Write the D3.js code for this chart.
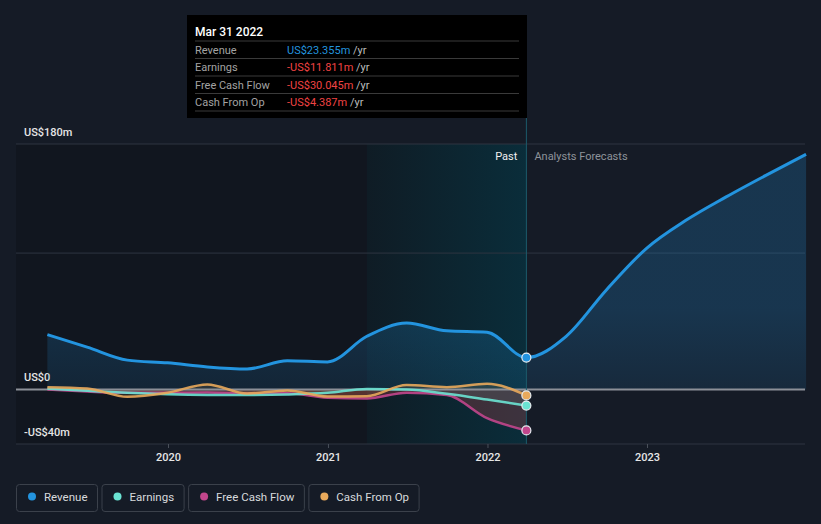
<!DOCTYPE html>
<html><head><meta charset="utf-8">
<script src="https://cdn.jsdelivr.net/npm/d3@7"></script>
<style>
html,body{margin:0;padding:0;background:#151b26;}
svg{display:block;font-family:Roboto,"Noto Sans",sans-serif;}
</style></head><body>
<svg id="c" width="821" height="524"></svg>
<script>
// ---------- data ----------
const pastDates = ["2019-03-31","2019-06-30","2019-09-30","2019-12-31","2020-03-31","2020-06-30","2020-09-30","2020-12-31","2021-03-31","2021-06-30","2021-09-30","2021-12-31","2022-03-31"];
const revenuePast = [40.2, 31, 21.5, 19.5, 16.5, 15, 21, 20.2, 39, 48.7, 43, 42, 23.355];
const earningsPast = [0.5, -1, -2.5, -3.5, -4, -4.1, -3.7, -2.5, 0.3, 0, -3.2, -7.4, -11.811];
const fcfPast = [0, -1.5, -2.5, -2.5, -2.2, -3, -2.8, -6, -6.6, -2.4, -4.1, -21, -30.045];
const cfoPast = [1.7, 0.7, -5.4, -2.4, 3.7, -3, -0.7, -5.2, -4.9, 3.2, 1.7, 4.1, -4.387];
const forecastDates = ["2022-03-31","2022-06-30","2022-09-30","2022-12-31","2023-03-31","2023-06-30","2023-09-30","2023-12-31"];
const revenueForecast = [23.355, 39, 73, 103.5, 124, 141, 157, 172.4];
const yGridValues = [180, 100, 0, -40];
const yTickLabels = [[180,"US$180m"],[0,"US$0"],[-40,"-US$40m"]];
const xTickYears = [2020, 2021, 2022, 2023];
const seriesNames = ["Revenue","Earnings","Free Cash Flow","Cash From Op"];
const seriesColors = ["#2394df","#6be3d3","#c2468c","#e8a95b"];
const tooltipTitle = "Mar 31 2022";
const tooltipValues = ["US$23.355m","-US$11.811m","-US$30.045m","-US$4.387m"];
const pastLabel = "Past", forecastLabel = "Analysts Forecasts";
const highlightStart = "2021-03-31";

// ---------- setup ----------
const svg = d3.select("#c");
const P = d3.timeParse("%Y-%m-%d");
const x = d3.scaleTime().domain([new Date(2020,0,1), new Date(2023,0,1)]).range([168,647]);
const y = d3.scaleLinear().domain([-40,180]).range([444,144]);
const L = 16, R = 805, T = y(180), B = y(-40);
const xNow = x(P(pastDates[pastDates.length-1]));
const xHi = x(P(highlightStart));

const defs = svg.append("defs");
const hg = defs.append("linearGradient").attr("id","hg").attr("x1",0).attr("x2",1).attr("y1",0).attr("y2",0);
hg.append("stop").attr("offset",0).attr("stop-color","#0f1c25");
hg.append("stop").attr("offset",1).attr("stop-color","#0a2d3a");
const rg = defs.append("linearGradient").attr("id","rg").attr("x1",0).attr("x2",0).attr("gradientUnits","userSpaceOnUse")
  .attr("y1", y(60)).attr("y2", y(0));
rg.append("stop").attr("offset",0).attr("stop-color","#2394df").attr("stop-opacity",0.22);
rg.append("stop").attr("offset",1).attr("stop-color","#2394df").attr("stop-opacity",0.12);

// past region darker
svg.append("rect").attr("x",L).attr("y",T).attr("width",xHi-L).attr("height",B-T).attr("fill","#11161f");
svg.append("rect").attr("x",xHi).attr("y",T).attr("width",xNow-xHi).attr("height",B-T).attr("fill","url(#hg)");

// gridlines
svg.selectAll("line.grid").data(yGridValues).join("line")
  .attr("x1",L).attr("x2",R).attr("y1",d=>y(d)).attr("y2",d=>y(d))
  .attr("stroke","#2e3540").attr("stroke-width",1);

// x axis ticks
const xAxis = d3.axisBottom(x).tickValues(xTickYears.map(v=>new Date(v,0,1))).tickFormat(d3.timeFormat("%Y")).tickSize(4).tickSizeOuter(0);
const gx = svg.append("g").attr("transform",`translate(0,${B})`).call(xAxis);
gx.select(".domain").remove();
gx.selectAll(".tick line").attr("stroke","#4a505a");
gx.selectAll(".tick text").attr("fill","#e6e6e6").attr("font-size",11).attr("font-weight",500).attr("dy","0.9em").attr("font-family","Roboto,sans-serif");

// y labels
svg.selectAll("text.yl").data(yTickLabels).join("text")
  .attr("x",24).attr("y",d=>y(d[0])-8).attr("fill","#e6e6e6").attr("font-size",11).attr("font-weight",500).text(d=>d[1]);

// series
const past = pastDates.map(P);
const fc = forecastDates.map(P);
const mk = (dates, vals) => dates.map((d,i)=>({d, v:vals[i]}));
const revAll = mk(past, revenuePast).concat(mk(fc, revenueForecast).slice(1));
const series = [
  mk(past, revenuePast), mk(past, earningsPast), mk(past, fcfPast), mk(past, cfoPast)
];
const curve = d3.curveMonotoneX;
const line = d3.line().x(p=>x(p.d)).y(p=>y(p.v)).curve(curve);
const area = d3.area().x(p=>x(p.d)).y0(y(0)).y1(p=>y(p.v)).curve(curve);

// areas
svg.append("path").datum(revAll).attr("d",area).attr("fill","url(#rg)");
[1,2,3].forEach(i=>{
  svg.append("path").datum(series[i]).attr("d",area).attr("fill", i===2?"#c2464c":seriesColors[i]).attr("fill-opacity", i===2?0.28:0.12);
});

// zero line
svg.append("line").attr("x1",L).attr("x2",R).attr("y1",y(0)).attr("y2",y(0)).attr("stroke","#8c9098").attr("stroke-width",2);

// lines
[2,1,3].forEach(i=>{
  svg.append("path").datum(series[i]).attr("d",line).attr("fill","none").attr("stroke",seriesColors[i]).attr("stroke-width",2.5).attr("stroke-opacity",0.9);
});
svg.append("path").datum(revAll).attr("d",line).attr("fill","none").attr("stroke",seriesColors[0]).attr("stroke-width",3);

// now line
svg.append("line").attr("x1",xNow).attr("x2",xNow).attr("y1",118).attr("y2",B).attr("stroke","#1c5a6c").attr("stroke-width",1);

// markers
series.forEach((s,i)=>{
  const p = s[s.length-1];
  svg.append("circle").attr("cx",x(p.d)).attr("cy",y(p.v)).attr("r",4.5).attr("fill",seriesColors[i]).attr("stroke","#e8eef2").attr("stroke-width",1.2);
});

// past / forecast labels
svg.append("text").attr("x",xNow-9).attr("y",160).attr("text-anchor","end").attr("fill","#f0f0f0").attr("font-size",11).text(pastLabel);
svg.append("text").attr("x",xNow+8).attr("y",160).attr("fill","#8e939a").attr("font-size",11).text(forecastLabel);

// tooltip
const tt = svg.append("g");
tt.append("rect").attr("x",187).attr("y",15).attr("width",340).attr("height",103).attr("fill","#000");
tt.append("text").attr("x",195).attr("y",36).attr("fill","#fff").attr("font-size",12).attr("font-weight",500).text(tooltipTitle);
const rowY = [41, 58.5, 76, 93.5, 111];
rowY.forEach(yy=>tt.append("line").attr("x1",195).attr("x2",519).attr("y1",yy).attr("y2",yy).attr("stroke","#3a3a3a"));
seriesNames.forEach((n,i)=>{
  const yy = rowY[i] + 12.5;
  tt.append("text").attr("x",195).attr("y",yy).attr("fill","#a3a3a3").attr("font-size",11).text(n);
  const t = tt.append("text").attr("x",287).attr("y",yy).attr("font-size",11);
  t.append("tspan").attr("fill", tooltipValues[i].startsWith("-")?"#f04343":"#2394df").text(tooltipValues[i]);
  t.append("tspan").attr("fill","#bdbdbd").text(" /yr");
});

// legend
const lg = svg.append("g");
let lx = 16.5;
seriesNames.forEach((n,i)=>{
  const g = lg.append("g");
  const txt = g.append("text").attr("x",lx+27.5).attr("y",500.5).attr("fill","#d8dadd").attr("font-size",11.5).text(n);
  const w = txt.node().getComputedTextLength() + 37.5;
  g.insert("rect","text").attr("x",lx).attr("y",484.5).attr("width",w).attr("height",27).attr("rx",3)
    .attr("fill","none").attr("stroke","#3b414b");
  g.append("circle").attr("cx",lx+15.5).attr("cy",496.5).attr("r",4).attr("fill",seriesColors[i]);
  lx += w + 4.5;
});
</script>
</body></html>
